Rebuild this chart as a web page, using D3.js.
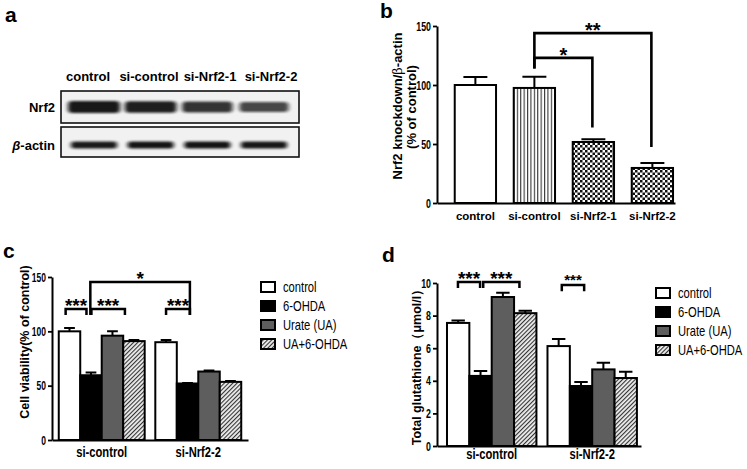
<!DOCTYPE html>
<html><head><meta charset="utf-8">
<script src="https://cdn.jsdelivr.net/npm/d3@7"></script>
<style>
body{margin:0;background:#fff;}
svg text{font-family:"Liberation Sans",Arial,sans-serif;fill:#000;}
</style></head><body>
<svg id="chart" width="747" height="469"></svg>
<script>
// ---------------- DATA ----------------
const blotLanes = ["control", "si-control", "si-Nrf2-1", "si-Nrf2-2"];
const blotRows = ["Nrf2", "β-actin"];
const nrf2Intensity = [1.0, 0.95, 0.8, 0.65];
const actinIntensity = [0.9, 0.95, 0.95, 0.92];

const bCategories = ["control", "si-control", "si-Nrf2-1", "si-Nrf2-2"];
const bValues = [100, 97.5, 51.7, 29.7];
const bErrors = [6.8, 9.5, 2.3, 4.3];
const bTicks = [0, 50, 100, 150];
const bSig = [
  {from: 1, to: 2, y: 123, legFrom: 114, legTo: 64, label: "*"},
  {from: 1, to: 3, y: 144, legFrom: 114, legTo: 47.5, label: "**"}
];

const groups = ["si-control", "si-Nrf2-2"];
const treatments = ["control", "6-OHDA", "Urate (UA)", "UA+6-OHDA"];

const cControl = [100, 90];
const c6OHDA = [59.6, 52];
const cUrate = [96, 63];
const cUA6OHDA = [91, 53.5];
const cErrControl = [3, 2];
const cErr6OHDA = [2.5, 0.5];
const cErrUrate = [4, 1];
const cErrUA6OHDA = [1, 0.7];
const cTicks = [0, 50, 100, 150];
const cSig = [
  {g1: 0, p1: 0.32, g2: 0, p2: 1.29, y: 120.5, leg: 115, label: "***"},
  {g1: 0, p1: 1.52, g2: 0, p2: 3.08, y: 120.5, leg: 115, label: "***"},
  {g1: 0, p1: 1.47, g2: 1, p2: 1.61, y: 145.4, leg: 115, label: "*"},
  {g1: 1, p1: 0.5, g2: 1, p2: 1.61, y: 120.5, leg: 115, label: "***"}
];

const dControl = [7.55, 6.13];
const d6OHDA = [4.3, 3.68];
const dUrate = [9.14, 4.7];
const dUA6OHDA = [8.15, 4.17];
const dErrControl = [0.15, 0.43];
const dErr6OHDA = [0.3, 0.25];
const dErrUrate = [0.26, 0.4];
const dErrUA6OHDA = [0.15, 0.38];
const dTicks = [0, 2, 4, 6, 8, 10];
const dSig = [
  {g1: 0, p1: 0.49, g2: 0, p2: 1.48, y: 10.06, leg: 9.7, label: "***", small: false},
  {g1: 0, p1: 1.62, g2: 0, p2: 3.24, y: 10.06, leg: 9.7, label: "***", small: false},
  {g1: 1, p1: 0.64, g2: 1, p2: 1.64, y: 9.88, leg: 9.5, label: "***", small: true}
];

// ---------------- STYLE ----------------
const REG = '"Liberation Sans",Arial,sans-serif';
const NF = 0.8;   // horizontal squeeze imitating a narrow face
const TF = 0.68;  // squeeze for tick numbers
const svg = d3.select("#chart");
svg.append("rect").attr("width", 747).attr("height", 469).attr("fill", "#fff");
const defs = svg.append("defs");

const vs = defs.append("pattern").attr("id", "vstripe").attr("patternUnits", "userSpaceOnUse").attr("width", 3.4).attr("height", 10);
vs.append("rect").attr("width", 3.4).attr("height", 10).attr("fill", "#fff");
vs.append("rect").attr("width", 1.1).attr("height", 10).attr("fill", "#333");

const ck = defs.append("pattern").attr("id", "checker").attr("patternUnits", "userSpaceOnUse").attr("width", 5).attr("height", 5);
ck.append("rect").attr("width", 5).attr("height", 5).attr("fill", "#fff");
ck.append("rect").attr("width", 2.5).attr("height", 2.5).attr("fill", "#111");
ck.append("rect").attr("x", 2.5).attr("y", 2.5).attr("width", 2.5).attr("height", 2.5).attr("fill", "#111");

const ht = defs.append("pattern").attr("id", "hatch").attr("patternUnits", "userSpaceOnUse").attr("width", 3).attr("height", 3).attr("patternTransform", "rotate(45)");
ht.append("rect").attr("width", 3).attr("height", 3).attr("fill", "#eee");
ht.append("rect").attr("width", 1.1).attr("height", 3).attr("fill", "#333");

const blur = defs.append("filter").attr("id", "blur").attr("x", "-30%").attr("y", "-100%").attr("width", "160%").attr("height", "300%");
blur.append("feGaussianBlur").attr("stdDeviation", "2 1.3");

const treatFill = ["#fff", "#000", "#5e5e5e", "url(#hatch)"];
const bFill = ["#fff", "url(#vstripe)", "url(#checker)", "url(#checker)"];

function squeeze(sel, f) {
  f = f || NF;
  sel.each(function() {
    const t = d3.select(this);
    const x = +t.attr("x") || 0;
    t.attr("x", x / f).attr("transform", `scale(${f},1)`);
  });
}

// panel letters
[{t: "a", x: 5, y: 22}, {t: "b", x: 380, y: 18}, {t: "c", x: 3, y: 258}, {t: "d", x: 382, y: 262}].forEach(l =>
  svg.append("text").attr("x", l.x).attr("y", l.y).attr("font-size", 21).attr("font-weight", "bold").style("font-family", REG).text(l.t));

// ---------------- PANEL A (blot) ----------------
const laneLabelX = d3.scalePoint().domain(blotLanes).range([88, 271]);
const laneBandX = d3.scalePoint().domain(blotLanes).range([94, 264]);
const rowY = d3.scalePoint().domain(blotRows).range([107, 145]);
const gA = svg.append("g");
gA.selectAll("text.lane").data(blotLanes).join("text").attr("class", "lane")
  .attr("x", d => laneLabelX(d)).attr("y", 81).attr("text-anchor", "middle")
  .attr("font-size", 13).attr("font-weight", "bold").style("font-family", REG).text(d => d);
[{y0: 91, y1: 123}, {y0: 127, y1: 157}].forEach(b =>
  gA.append("rect").attr("x", 61).attr("y", b.y0).attr("width", 238).attr("height", b.y1 - b.y0)
    .attr("fill", "#f1f1f1").attr("stroke", "#111").attr("stroke-width", 1.6));
const rl = gA.selectAll("text.row").data(blotRows).join("text").attr("class", "row")
  .attr("x", 55).attr("y", d => rowY(d) + 5).attr("text-anchor", "end")
  .attr("font-size", 13).attr("font-weight", "bold").style("font-family", REG);
rl.each(function(d) {
  const t = d3.select(this);
  if (d.startsWith("β")) {
    t.append("tspan").attr("font-style", "italic").text("β");
    t.append("tspan").text(d.slice(1));
  } else t.text(d);
});
gA.selectAll("rect.nrf2").data(nrf2Intensity).join("rect").attr("class", "nrf2")
  .attr("x", (d, i) => laneBandX(blotLanes[i]) - 22 - 4 * d)
  .attr("width", d => 44 + 8 * d)
  .attr("y", d => rowY("Nrf2") - (3 + 3 * d)).attr("height", d => 6 + 6 * d)
  .attr("rx", 4).attr("fill", "#111").attr("opacity", d => 0.35 + 0.6 * d).attr("filter", "url(#blur)");
gA.selectAll("rect.actin").data(actinIntensity).join("rect").attr("class", "actin")
  .attr("x", (d, i) => laneBandX(blotLanes[i]) - 23)
  .attr("width", 46)
  .attr("y", rowY("β-actin") - 3.5).attr("height", 7)
  .attr("rx", 3).attr("fill", "#111").attr("opacity", d => 0.4 + 0.6 * d).attr("filter", "url(#blur)");

// ---------------- helpers ----------------
function styleYAxis(g, fs) {
  g.select(".domain").attr("stroke-width", 2).attr("stroke", "#000");
  g.selectAll(".tick line").attr("stroke-width", 1.8).attr("stroke", "#000");
  g.selectAll(".tick text").style("font-family", REG).attr("font-size", fs).attr("font-weight", "bold").attr("fill", "#000")
    .call(squeeze, TF);
}
function starText(g, x, glyphCenterY, label, fs) {
  g.append("text").attr("x", x).attr("y", glyphCenterY + 0.58 * fs).attr("text-anchor", "middle")
    .attr("font-size", fs).attr("font-weight", "bold").style("font-family", REG).text(label);
}

// ---------------- PANEL B ----------------
const gB = svg.append("g");
const bY = d3.scaleLinear().domain([0, 150]).range([203, 26]);
const bX = d3.scaleBand().domain(bCategories).range([437, 675]).paddingInner(0.3).paddingOuter(0.167).align(0.9);
gB.append("g").attr("transform", "translate(437,0)")
  .call(d3.axisLeft(bY).tickValues(bTicks).tickSize(4).tickSizeOuter(0).tickPadding(2))
  .call(g => styleYAxis(g, 13));
gB.append("g").attr("transform", "translate(0,203)")
  .call(d3.axisBottom(bX).tickSize(0).tickSizeOuter(0).tickPadding(9))
  .call(g => {
    g.select(".domain").attr("stroke-width", 2).attr("stroke", "#000");
    g.selectAll(".tick text").style("font-family", REG).attr("font-size", 11.5).attr("font-weight", "bold").attr("fill", "#000");
  });
gB.selectAll("rect.bar").data(bValues).join("rect").attr("class", "bar")
  .attr("x", (d, i) => bX(bCategories[i])).attr("width", bX.bandwidth())
  .attr("y", d => bY(d)).attr("height", d => bY(0) - bY(d))
  .attr("fill", (d, i) => bFill[i]).attr("stroke", "#000").attr("stroke-width", 2);
const bCx = i => bX(bCategories[i]) + bX.bandwidth() / 2;
bValues.forEach((v, i) => {
  const cx = bCx(i), hw = bX.bandwidth() * 0.29;
  gB.append("path").attr("d", `M${cx},${bY(v)}V${bY(v + bErrors[i])}M${cx - hw},${bY(v + bErrors[i])}H${cx + hw}`)
    .attr("stroke", "#000").attr("stroke-width", 2).attr("fill", "none");
});
bSig.forEach(s => {
  const x1 = bCx(s.from), x2 = bCx(s.to) - 1;
  gB.append("path").attr("d", `M${x1},${bY(s.legFrom)}V${bY(s.y)}H${x2}V${bY(s.legTo)}`)
    .attr("stroke", "#000").attr("stroke-width", 2.6).attr("fill", "none");
  starText(gB, (x1 + x2) / 2, bY(s.y) - 7.5, s.label, 20);
});
const bLab = gB.append("text").attr("transform", "translate(402,106) rotate(-90)").attr("text-anchor", "middle")
  .attr("font-size", 13).attr("font-weight", "bold").style("font-family", REG);
bLab.append("tspan").text("Nrf2 knockdown/");
bLab.append("tspan").style("font-family", '"DejaVu Serif","Liberation Serif",serif').attr("font-weight", "normal").text("β");
bLab.append("tspan").text("-actin");
gB.append("text").attr("transform", "translate(415.5,107) rotate(-90)").attr("text-anchor", "middle")
  .attr("font-size", 13).attr("font-weight", "bold").style("font-family", REG).text("(% of control)");

// ---------------- GROUPED PANELS ----------------
function grouped(cfg) {
  const g = svg.append("g");
  const y = d3.scaleLinear().domain(cfg.domain).range([cfg.y0, cfg.y1]);
  const x0 = d3.scaleBand().domain(groups).range([cfg.xa, cfg.xb]).paddingInner(0.11).paddingOuter(0.07).align(cfg.align);
  const x1 = d3.scaleBand().domain(treatments).range([0, x0.bandwidth()]).padding(0);
  g.append("g").attr("transform", `translate(${cfg.xa},0)`)
    .call(d3.axisLeft(y).tickValues(cfg.ticks).tickSize(4).tickSizeOuter(0).tickPadding(2))
    .call(a => styleYAxis(a, cfg.tickFs));
  g.append("g").attr("transform", `translate(0,${cfg.y0})`)
    .call(d3.axisBottom(x0).tickSize(0).tickSizeOuter(0).tickPadding(cfg.xPad))
    .call(a => {
      a.select(".domain").attr("stroke-width", 2).attr("stroke", "#000");
      a.selectAll(".tick text").style("font-family", REG).attr("font-size", 14).attr("font-weight", "bold").attr("fill", "#000")
        .call(squeeze);
    });
  const rows = [];
  groups.forEach((grp, gi) => treatments.forEach((t, ti) => rows.push({grp, gi, t, ti, v: cfg.values[ti][gi], e: cfg.errors[ti][gi]})));
  g.selectAll("rect.bar").data(rows).join("rect").attr("class", "bar")
    .attr("x", d => x0(d.grp) + x1(d.t)).attr("width", x1.bandwidth())
    .attr("y", d => y(d.v)).attr("height", d => y(0) - y(d.v))
    .attr("fill", d => treatFill[d.ti]).attr("stroke", "#000").attr("stroke-width", 2);
  g.selectAll("path.err").data(rows).join("path").attr("class", "err")
    .attr("d", d => {
      const cx = x0(d.grp) + x1(d.t) + x1.bandwidth() / 2, hw = x1.bandwidth() * cfg.cap;
      return `M${cx},${y(d.v)}V${y(d.v + d.e)}M${cx - hw},${y(d.v + d.e)}H${cx + hw}`;
    }).attr("stroke", "#000").attr("stroke-width", 2).attr("fill", "none");
  const px = (gi, p) => x0(groups[gi]) + p * x1.bandwidth();
  cfg.sig.forEach(s => {
    const xa = px(s.g1, s.p1), xb = px(s.g2, s.p2);
    g.append("path").attr("d", `M${xa},${y(s.leg)}V${y(s.y)}H${xb}V${y(s.leg)}`)
      .attr("stroke", "#000").attr("stroke-width", 2.5).attr("fill", "none");
    starText(g, (xa + xb) / 2, y(s.y) - cfg.starOff, s.label, s.small ? 15 : 19);
  });
  const lg = g.append("g");
  treatments.forEach((t, i) => {
    const cy = cfg.legY + i * 19;
    lg.append("rect").attr("x", cfg.legX).attr("y", cy - 5).attr("width", 14).attr("height", 10)
      .attr("fill", treatFill[i]).attr("stroke", "#000").attr("stroke-width", 2);
    lg.append("text").attr("x", cfg.legX + 22).attr("y", cy + 5).attr("font-size", 14)
      .style("font-family", REG).text(t).call(squeeze);
  });
  g.append("text").attr("transform", `translate(${cfg.labX},${cfg.labY}) rotate(-90)`).attr("text-anchor", "middle")
    .attr("font-size", 12.5).attr("font-weight", "bold").style("font-family", REG).text(cfg.label);
}

grouped({
  domain: [0, 150], y0: 440, y1: 277, xa: 52, xb: 248, align: 0.5, ticks: cTicks, tickFs: 12.5, xPad: 7,
  values: [cControl, c6OHDA, cUrate, cUA6OHDA], errors: [cErrControl, cErr6OHDA, cErrUrate, cErrUA6OHDA],
  cap: 0.25, sig: cSig, starOff: 8.5, legX: 261, legY: 287, labX: 29, labY: 342,
  label: "Cell viability(% of control)"
});
grouped({
  domain: [0, 10], y0: 446, y1: 283, xa: 437, xb: 641, align: 0.71, ticks: dTicks, tickFs: 13, xPad: 3,
  values: [dControl, d6OHDA, dUrate, dUA6OHDA], errors: [dErrControl, dErr6OHDA, dErrUrate, dErrUA6OHDA],
  cap: 0.3, sig: dSig, starOff: 8.5, legX: 656, legY: 293, labX: 421, labY: 364,
  label: "Total glutathione（μmol/l）"
});
</script>
</body></html>
